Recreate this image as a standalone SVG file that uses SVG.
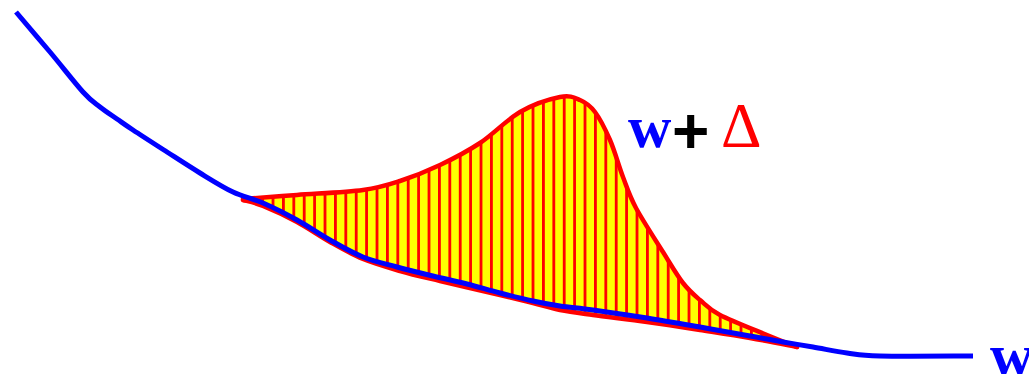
<svg xmlns="http://www.w3.org/2000/svg" width="1029" height="374" viewBox="0 0 1029 374">
<style>
.lbl{font-family:"Liberation Serif","Times New Roman",serif;font-size:60px}
.b{font-weight:bold}
.red{stroke:#ff0000;stroke-width:4.5;fill:none;stroke-linejoin:round;stroke-linecap:round}
.blue{stroke:#0000ff;stroke-width:5;fill:none;stroke-linejoin:round}
</style>
<defs>
<pattern id="hatch" patternUnits="userSpaceOnUse" x="250.8" y="0" width="10.4" height="374">
<rect x="0" y="0" width="10.4" height="374" fill="#ffff00"/>
<rect x="0" y="0" width="2.8" height="374" fill="#ff0000"/>
</pattern>
</defs>
<g id="area">
<path fill="url(#hatch)" d="M243,199 C252,198.3 277,196.5 297,195 C317,193.5 345.8,192.3 363,190 C380.2,187.7 387.2,185.2 400,181 C412.8,176.8 426.7,171.3 440,165 C453.3,158.7 466.7,151.8 480,143 C493.3,134.2 506.7,119.7 520,112 C533.3,104.3 550,99 560,97 C570,95 574.2,97.5 580,100 C585.8,102.5 590,105.3 595,112 C600,118.7 605.3,129.2 610,140 C614.7,150.8 618.7,165.7 623,177 C627.3,188.3 629.3,195.5 636,208 C642.7,220.5 655.2,239.5 663,252 C670.8,264.5 676.8,275 683,283 C689.2,291 693.8,294.7 700,300 C706.2,305.3 708.8,309.2 720,315 C731.2,320.8 754.2,329.7 767,335 C779.8,340.3 792,345 797,347 C789.2,345.5 766.2,340.8 750,338 C733.8,335.2 717.2,332.7 700,330 C682.8,327.3 664.8,324.5 647,322 C629.2,319.5 607.5,317 593,315 C578.5,313 570,312 560,310 C550,308 543,305.5 533,303 C523,300.5 515.5,298.7 500,295 C484.5,291.3 456.7,285 440,281 C423.3,277 412.8,274.7 400,271 C387.2,267.3 374.7,263.8 363,259 C351.3,254.2 341,248.2 330,242 C319,235.8 308.2,228 297,222 C285.8,216 272,209.7 263,206 C254,202.3 246.3,201 243,200 Z"/>
</g>
<g id="w-plus-delta-curve">
<path class="red" d="M243,199 C252,198.3 277,196.5 297,195 C317,193.5 345.8,192.3 363,190 C380.2,187.7 387.2,185.2 400,181 C412.8,176.8 426.7,171.3 440,165 C453.3,158.7 466.7,151.8 480,143 C493.3,134.2 506.7,119.7 520,112 C533.3,104.3 550,99 560,97 C570,95 574.2,97.5 580,100 C585.8,102.5 590,105.3 595,112 C600,118.7 605.3,129.2 610,140 C614.7,150.8 618.7,165.7 623,177 C627.3,188.3 629.3,195.5 636,208 C642.7,220.5 655.2,239.5 663,252 C670.8,264.5 676.8,275 683,283 C689.2,291 693.8,294.7 700,300 C706.2,305.3 708.8,309.2 720,315 C731.2,320.8 754.2,329.7 767,335 C779.8,340.3 792,345 797,347"/>
<path class="red" d="M243,200 C246.3,201 254,202.3 263,206 C272,209.7 285.8,216 297,222 C308.2,228 319,235.8 330,242 C341,248.2 351.3,254.2 363,259 C374.7,263.8 387.2,267.3 400,271 C412.8,274.7 423.3,277 440,281 C456.7,285 484.5,291.3 500,295 C515.5,298.7 523,300.5 533,303 C543,305.5 550,308 560,310 C570,312 578.5,313 593,315 C607.5,317 629.2,319.5 647,322 C664.8,324.5 682.8,327.3 700,330 C717.2,332.7 733.8,335.2 750,338 C766.2,340.8 789.2,345.5 797,347"/>
</g>
<g id="w-curve">
<path class="blue" d="M16,12 C21.7,18.7 38.8,38.7 50,52 C61.2,65.3 74.7,82.8 83,92 C91.3,101.2 94.3,102.5 100,107 C105.7,111.5 111.5,115.2 117,119 C122.5,122.8 124.7,124.5 133,130 C141.3,135.5 155.8,144.8 167,152 C178.2,159.2 189,166.3 200,173 C211,179.7 222.5,187 233,192 C243.5,197 252.3,198.3 263,203 C273.7,207.7 285.8,213.8 297,220 C308.2,226.2 319,233.8 330,240 C341,246.2 351.8,252.5 363,257 C374.2,261.5 385.3,263.8 397,267 C408.7,270.2 421.3,273.2 433,276 C444.7,278.8 455.8,281.2 467,284 C478.2,286.8 489,290.2 500,293 C511,295.8 523,298.8 533,301 C543,303.2 550,304.5 560,306 C570,307.5 578.5,308 593,310 C607.5,312 629.2,315.2 647,318 C664.8,320.8 682.8,324 700,327 C717.2,330 736.2,333.5 750,336 C763.8,338.5 772.5,340.2 783,342 C793.5,343.8 802.3,345.2 813,347 C823.7,348.8 835.8,351.5 847,353 C858.2,354.5 859,355.5 880,356 C901,356.5 957.5,356 973,356"/>
</g>
<g id="label-top">
<text class="lbl b" x="628" y="147" fill="#0000ff">w</text>
<text x="672" y="153" fill="#000000" style="font-family:'Liberation Sans',Arial,sans-serif;font-weight:bold;font-size:64px">+</text>
<text class="lbl" x="721" y="147" fill="#ff0000" style="font-size:63px">Δ</text>
</g>
<g id="label-bottom">
<text class="lbl b" x="990" y="375" fill="#0000ff">w</text>
</g>
</svg>
